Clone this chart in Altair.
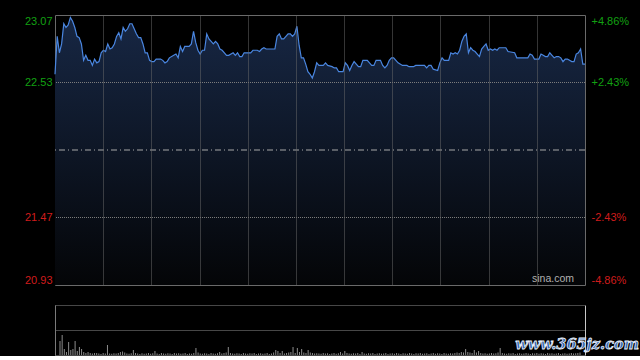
import altair as alt
import pandas as pd

# ---------------- data ----------------
prev_close = 22.00
pct_ticks = [4.86, 2.43, -2.43, -4.86]
total_minutes = 241

minutes = [0, 1, 2, 3, 4, 5, 6, 7, 8, 9, 10, 11, 12, 13, 14, 15, 16, 17, 18, 19,
           20, 21, 22, 23, 24, 25, 26, 27, 28, 29, 30, 31, 32, 33, 34, 35, 36, 37, 38, 39,
           40, 41, 42, 43, 44, 45, 46, 48, 49, 50, 51, 52, 54, 55, 56, 57, 58, 59, 61, 62,
           63, 64, 65, 66, 67, 68, 69, 70, 71, 72, 73, 74, 75, 76, 78, 79, 81, 82, 83, 84,
           85, 86, 89, 90, 92, 93, 94, 95, 96, 100, 101, 102, 103, 104, 105, 106, 107, 108, 109, 110,
           111, 112, 113, 114, 115, 116, 117, 118, 119, 120, 122, 123, 124, 126, 127, 128, 129, 131, 132, 133,
           134, 135, 136, 137, 138, 139, 140, 142, 143, 144, 145, 146, 148, 149, 150, 151, 152, 153, 154, 155,
           156, 158, 160, 161, 163, 164, 166, 168, 169, 170, 171, 172, 174, 175, 176, 177, 179, 180, 181, 182,
           183, 184, 185, 186, 187, 188, 189, 190, 191, 192, 193, 194, 195, 196, 197, 198, 199, 200, 201, 202,
           205, 206, 209, 210, 215, 216, 217, 218, 220, 221, 222, 223, 224, 225, 226, 227, 228, 229, 230, 231,
           232, 233, 235, 236, 237, 238, 239, 240, 241]

prices = [22.60, 22.90, 22.77, 22.84, 23.00, 22.97, 22.99, 23.05, 23.02, 22.97, 22.90, 22.89, 22.84, 22.71, 22.75, 22.71, 22.71, 22.67, 22.72, 22.69,
          22.70, 22.77, 22.79, 22.78, 22.84, 22.80, 22.81, 22.84, 22.90, 22.93, 22.88, 22.97, 22.94, 22.96, 23.00, 23.00, 22.96, 22.92, 22.89, 22.89,
          22.84, 22.77, 22.77, 22.71, 22.70, 22.70, 22.72, 22.72, 22.71, 22.69, 22.70, 22.73, 22.75, 22.76, 22.73, 22.82, 22.78, 22.82, 22.82, 22.84,
          22.94, 22.85, 22.79, 22.76, 22.79, 22.79, 22.92, 22.88, 22.86, 22.84, 22.86, 22.84, 22.80, 22.79, 22.75, 22.75, 22.77, 22.75, 22.77, 22.74,
          22.74, 22.77, 22.77, 22.79, 22.79, 22.78, 22.80, 22.81, 22.80, 22.80, 22.90, 22.92, 22.88, 22.88, 22.90, 22.92, 22.92, 22.90, 22.92, 22.98,
          22.83, 22.73, 22.73, 22.68, 22.62, 22.60, 22.57, 22.62, 22.69, 22.67, 22.67, 22.69, 22.67, 22.66, 22.65, 22.65, 22.62, 22.62, 22.69, 22.67,
          22.63, 22.67, 22.70, 22.68, 22.66, 22.66, 22.71, 22.71, 22.69, 22.67, 22.67, 22.71, 22.71, 22.67, 22.65, 22.67, 22.71, 22.73, 22.73, 22.71,
          22.69, 22.67, 22.67, 22.66, 22.66, 22.67, 22.67, 22.67, 22.65, 22.67, 22.67, 22.64, 22.63, 22.69, 22.73, 22.71, 22.71, 22.77, 22.76, 22.77,
          22.76, 22.79, 22.86, 22.90, 22.92, 22.77, 22.81, 22.79, 22.78, 22.76, 22.74, 22.80, 22.82, 22.84, 22.79, 22.80, 22.79, 22.80, 22.79, 22.81,
          22.81, 22.78, 22.77, 22.73, 22.73, 22.76, 22.75, 22.72, 22.72, 22.76, 22.75, 22.74, 22.74, 22.77, 22.75, 22.73, 22.74, 22.74, 22.73, 22.70,
          22.72, 22.72, 22.70, 22.70, 22.76, 22.77, 22.80, 22.68, 22.68]

volumes = [1400, 2000, 600, 300, 1300, 500, 600, 1400, 400, 800, 600, 300, 200, 300, 200, 150, 200, 200, 150, 100,
           200, 150, 1000, 150, 120, 180, 150, 200, 300, 350, 250, 150, 120, 180, 500, 200, 150, 100, 180, 120,
           150, 200, 120, 180, 400, 150, 100, 200, 150, 120, 180, 150, 100, 200, 150, 180, 120, 150, 200, 100,
           150, 120, 200, 700, 250, 150, 120, 180, 150, 100, 200, 150, 120, 180, 300, 150, 200, 250, 800, 200,
           150, 120, 180, 150, 100, 200, 150, 120, 180, 150, 200, 100, 150, 180, 120, 150, 200, 100, 150, 250,
           500, 400, 200, 400, 150, 200, 250, 300, 800, 200, 700, 300, 600, 250, 200, 500, 250, 200, 150, 180,
           150, 120, 200, 150, 180, 100, 150, 200, 120, 180, 300, 150, 400, 200, 150, 120, 180, 150, 200, 100,
           300, 150, 120, 180, 150, 200, 100, 150, 180, 120, 150, 200, 100, 150, 180, 120, 200, 150, 100, 180,
           150, 120, 200, 150, 100, 180, 150, 200, 120, 150, 180, 100, 150, 200, 120, 180, 150, 100, 200, 150,
           120, 180, 150, 200, 250, 200, 300, 250, 600, 300, 250, 200, 500, 250, 400, 200, 150, 180, 120, 150,
           200, 150, 180, 250, 700, 200, 150, 120, 180, 150, 200, 100, 150, 180, 120, 150, 200, 150, 100, 180,
           150, 200, 120, 180, 150, 100, 200, 150, 180, 120, 150, 200, 100, 150, 180, 120, 150, 200, 150, 180,
           200, 250]

vol_max = 5000

# ---------------- build ----------------
FONT = "Liberation Sans"
GREEN = "#12a012"
RED = "#d01c1c"
GRID = "#7c7c7c"

price_df = pd.DataFrame({"minute": minutes, "price": prices})
vol_df = pd.DataFrame({"minute": list(range(len(volumes))), "volume": volumes})

tick_prices = [round(prev_close * (1 + p / 100), 4) for p in pct_ticks]
y_dom = [min(tick_prices), max(tick_prices)]
inner_ticks = [t for t in tick_prices if y_dom[0] < t < y_dom[1]]

x_scale = alt.Scale(domain=[0, total_minutes], nice=False, zero=False)
y_scale = alt.Scale(domain=y_dom, nice=False, zero=False)
vgrid = [total_minutes * k / 11 for k in range(1, 11)]

x_axis = alt.Axis(values=vgrid, grid=True, gridColor="#6a6a6a", gridDash=[1, 1], gridWidth=1,
                  labels=False, ticks=False, domain=False, title=None, zindex=1)

label_color = {"condition": {"test": f"datum.value > {prev_close}", "value": GREEN}, "value": RED}

area = alt.Chart(price_df).mark_area(
    color=alt.Gradient(gradient="linear",
                       stops=[alt.GradientStop(color="#172744", offset=0),
                              alt.GradientStop(color="#040507", offset=1)],
                       x1=1, x2=1, y1=0, y2=1)
).encode(
    x=alt.X("minute:Q", scale=x_scale, axis=x_axis),
    y=alt.Y("price:Q", scale=y_scale,
            axis=alt.Axis(values=tick_prices, format=".2f", grid=False, ticks=False, domain=False,
                          labelFlush=True, labelColor=label_color, labelFont=FONT, labelFontSize=11,
                          labelPadding=3, title=None)),
    y2=alt.datum(y_dom[0]),
)

line = alt.Chart(price_df).mark_line(color="#4a86e0", strokeWidth=1.2).encode(
    x=alt.X("minute:Q", scale=x_scale),
    y=alt.Y("price:Q", scale=y_scale, axis=None),
)

hgrid = alt.Chart(pd.DataFrame({"price": inner_ticks})).mark_rule(
    color=GRID, strokeDash=[1, 1], strokeWidth=1
).encode(y=alt.Y("price:Q", scale=y_scale, axis=None))

right_expr = (f"(datum.value >= {prev_close} ? '+' : '-') + "
              f"format(abs(datum.value / {prev_close} - 1) * 100, '.2f') + '%'")

mid = alt.Chart(pd.DataFrame({"price": [prev_close]})).mark_rule(
    color="#a8a8a8", strokeDash=[6, 3, 1, 3], strokeWidth=1
).encode(
    y=alt.Y("price:Q", scale=y_scale,
            axis=alt.Axis(orient="right", values=tick_prices, labelExpr=right_expr, grid=False,
                          ticks=False, domain=False, labelFlush=True, labelColor=label_color,
                          labelFont=FONT, labelFontSize=11, labelPadding=6, title=None))
)

sina = alt.Chart(pd.DataFrame({"t": ["sina.com"]})).mark_text(
    align="right", baseline="bottom", font=FONT, fontSize=10.5, color="#b0b0b0"
).encode(text="t:N", x=alt.value(519), y=alt.value(269))

main = alt.layer(area, line, hgrid, mid, sina).resolve_scale(y="independent").properties(
    width=530, height=270,
    view=alt.ViewBackground(stroke="#6a6a6a", strokeWidth=1),
)

vol_scale = alt.Scale(domain=[0, vol_max], nice=False, zero=True)

bars = alt.Chart(vol_df).mark_bar(color="#8c8c8c", width=1).encode(
    x=alt.X("minute:Q", scale=x_scale, axis=None),
    y=alt.Y("volume:Q", scale=vol_scale,
            axis=alt.Axis(values=[0, vol_max / 2, vol_max], grid=True, gridColor="#8e8e8e",
                          gridDash=[1, 1], labels=False, ticks=False, domain=True,
                          domainColor="#7a7a7a", title=None)),
)

right_edge = alt.Chart(pd.DataFrame({"volume": [0]})).mark_rule(opacity=0).encode(
    y=alt.Y("volume:Q", scale=vol_scale,
            axis=alt.Axis(orient="right", labels=False, ticks=False, grid=False, domain=True,
                          domainColor="#c8c8c8", title=None))
)

watermark = alt.Chart(pd.DataFrame({"t": ["www.365jz.com"]})).mark_text(
    align="right", baseline="middle", font="DejaVu Serif", fontSize=14.5, fontWeight="bold",
    fontStyle="italic", color="#2f62b0", stroke="#e8eef8", strokeWidth=0.8
).encode(text="t:N", x=alt.value(584), y=alt.value(40))

volume = alt.layer(bars, right_edge, watermark).resolve_scale(y="independent").properties(
    width=530, height=50,
    view=alt.ViewBackground(stroke="transparent"),
)

chart = alt.vconcat(main, volume, spacing=18).properties(
    background="#000000",
    padding={"left": 23, "top": 14, "right": 0, "bottom": 0},
).configure_view(strokeWidth=1)

chart.save("out.html", embed_options={"renderer": "svg", "actions": False})
